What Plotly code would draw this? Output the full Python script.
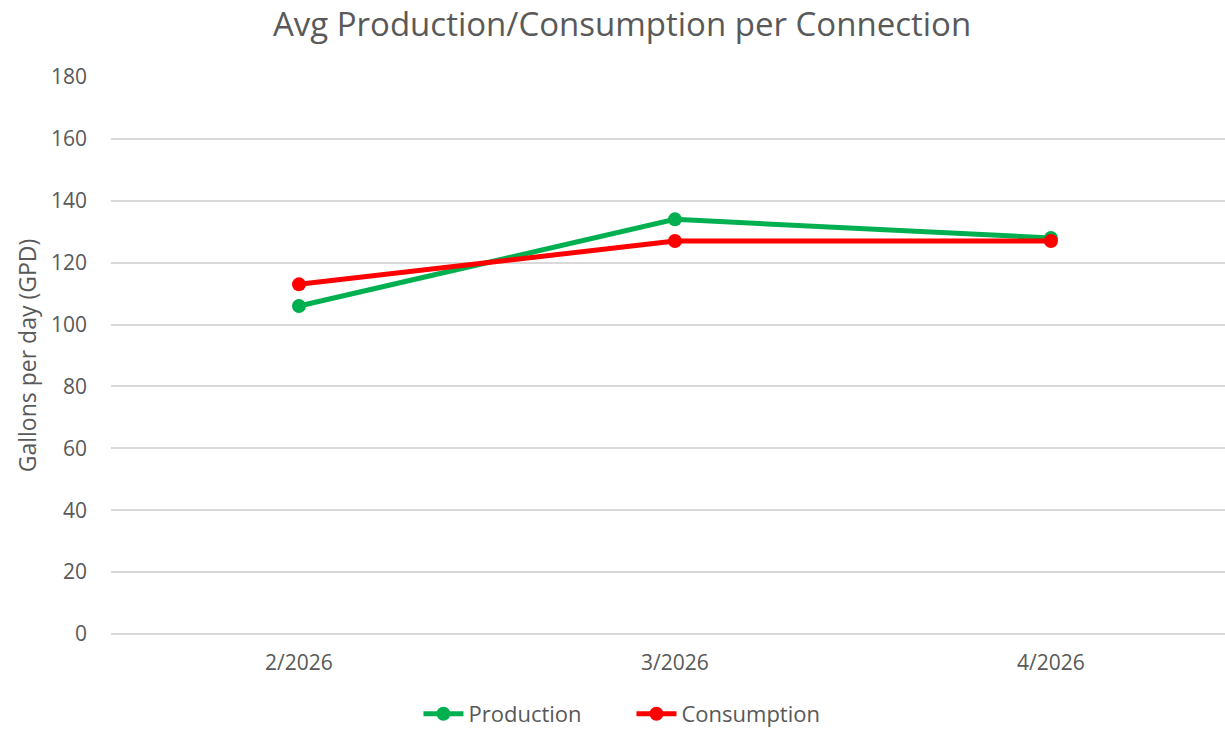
import plotly.graph_objects as go

categories = ["2/2026", "3/2026", "4/2026"]
production = [106, 134, 128]
consumption = [113, 127, 127]
y_ticks = [0, 20, 40, 60, 80, 100, 120, 140, 160, 180]

FONT = "Open Sans"
GREY = "#595959"

fig = go.Figure()
fig.add_trace(go.Scatter(x=categories, y=production, name="Production", mode="lines+markers",
                         line=dict(color="#00B050", width=5), marker=dict(size=14, color="#00B050")))
fig.add_trace(go.Scatter(x=categories, y=consumption, name="Consumption", mode="lines+markers",
                         line=dict(color="#FF0000", width=5), marker=dict(size=14, color="#FF0000")))

fig.update_layout(
    width=1225, height=730,
    margin=dict(l=111, r=0, t=77, b=96, autoexpand=False),
    paper_bgcolor="white", plot_bgcolor="white",
    font=dict(family=FONT, color=GREY, size=21),
    title=dict(text="Avg Production/Consumption per Connection", x=0.5078, xref="container",
               xanchor="center", y=1 - 24 / 730, yref="container", yanchor="middle",
               font=dict(size=33, color=GREY, family=FONT)),
    showlegend=True,
    legend=dict(orientation="h", x=0.276, xanchor="left", y=-0.1436, yanchor="middle",
                font=dict(size=22, color=GREY), itemwidth=40,
                entrywidth=158, entrywidthmode="pixels"),
    xaxis=dict(type="category", range=[-0.5, 2.463], showgrid=False, showline=False,
               ticks="", tickfont=dict(size=21, color=GREY), ticklabelstandoff=14),
    yaxis=dict(range=[0, 180], tickvals=y_ticks, showgrid=True, gridcolor="#d9d9d9", gridwidth=1.5,
               zeroline=True, zerolinecolor="#d9d9d9", zerolinewidth=1.5, showline=False,
               ticks="", tickfont=dict(size=21, color=GREY), ticklabelstandoff=23,
               title=dict(text="Gallons per day (GPD)", font=dict(size=23, color=GREY), standoff=7)),
)

fig.write_html("out.html", config={"displayModeBar": False},
               post_script="document.body.style.margin='0';document.body.style.overflow='hidden';")
